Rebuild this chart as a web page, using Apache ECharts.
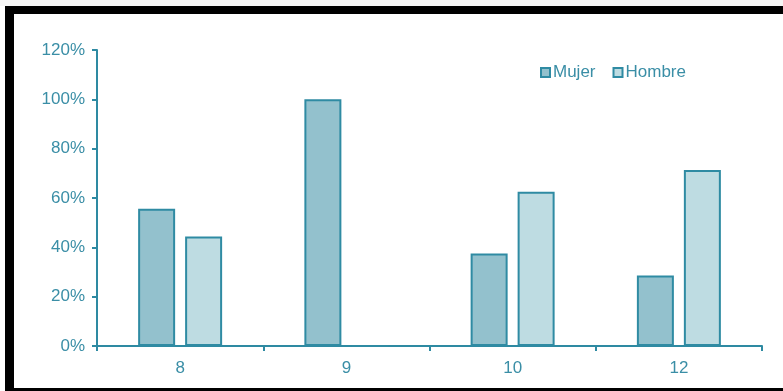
<!DOCTYPE html>
<html>
<head>
<meta charset="utf-8">
<script src="https://cdn.jsdelivr.net/npm/echarts@6/dist/echarts.min.js"></script>
<style>
html,body{margin:0;padding:0;background:#ffffff;}
#c{width:783px;height:391px;}
</style>
</head>
<body>
<div id="c"></div>
<script>
var categories = ['8', '9', '10', '12'];
var mujer = [0.556, 1.0, 0.375, 0.286];
var hombre = [0.444, 0, 0.625, 0.714];
var seriesNames = ['Mujer', 'Hombre'];

var teal = '#3a8ea6';
var axisColor = '#2e8aa2';
var font = 'Liberation Sans, Arial, sans-serif';
var chart = echarts.init(document.getElementById('c'), null, {renderer: 'canvas'});
chart.setOption({
  animation: false,
  backgroundColor: '#ffffff',
  graphic: [
    {type: 'rect', shape: {x: 0, y: 0, width: 783, height: 6}, style: {fill: '#f6f6f6'}, silent: true},
    {type: 'rect', shape: {x: 5, y: 6, width: 778, height: 8}, style: {fill: '#000000'}, silent: true},
    {type: 'rect', shape: {x: 5, y: 6, width: 9, height: 385}, style: {fill: '#000000'}, silent: true},
    {type: 'rect', shape: {x: 5, y: 388, width: 778, height: 3}, style: {fill: '#000000'}, silent: true}
  ],
  legend: {
    data: seriesNames,
    left: 535,
    top: 59,
    icon: 'rect',
    itemWidth: 9,
    itemHeight: 9,
    itemGap: 17,
    textStyle: {color: teal, fontSize: 17, fontFamily: font, padding: [0, 0, 0, -2]}
  },
  grid: {left: 97, right: 21, top: 50, bottom: 45, containLabel: false},
  xAxis: {
    type: 'category',
    data: categories,
    axisLine: {lineStyle: {color: axisColor, width: 2}},
    axisTick: {show: true, length: 5, lineStyle: {color: axisColor, width: 2}},
    axisLabel: {color: teal, fontSize: 17, margin: 14, fontFamily: font}
  },
  yAxis: {
    type: 'value',
    min: 0,
    max: 1.2,
    interval: 0.2,
    splitLine: {show: false},
    axisLine: {show: true, lineStyle: {color: axisColor, width: 2}},
    axisTick: {show: true, length: 5, lineStyle: {color: axisColor, width: 2}},
    axisLabel: {
      color: teal, fontSize: 17, margin: 12, fontFamily: font,
      formatter: function (v) { return Math.round(v * 100) + '%'; }
    }
  },
  series: [
    {
      name: seriesNames[0], type: 'bar', data: mujer, barWidth: 37, barGap: '27%',
      itemStyle: {color: '#93c1cd', borderColor: '#2f8ba3', borderWidth: 2}
    },
    {
      name: seriesNames[1], type: 'bar', data: hombre, barWidth: 37,
      itemStyle: {color: '#bedce2', borderColor: '#2f8ba3', borderWidth: 2}
    }
  ]
});
</script>
</body>
</html>
